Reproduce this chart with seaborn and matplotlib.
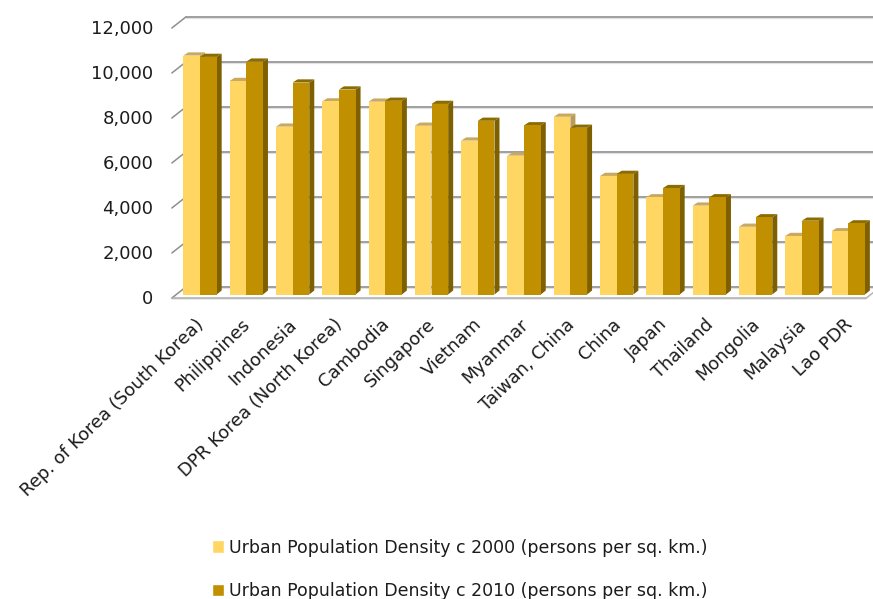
import numpy as np
import pandas as pd
import matplotlib.pyplot as plt
import seaborn as sns
from matplotlib.patches import Polygon
from matplotlib.transforms import ScaledTranslation

countries = ['Rep. of Korea (South Korea)', 'Philippines', 'Indonesia', 'DPR Korea (North Korea)',
             'Cambodia', 'Singapore', 'Vietnam', 'Myanmar', 'Taiwan, China', 'China', 'Japan',
             'Thailand', 'Mongolia', 'Malaysia', 'Lao PDR']
density_2000 = [10620, 9490, 7460, 8580, 8570, 7500, 6840, 6170, 7900, 5270, 4320, 3950, 3010, 2600, 2810]
density_2010 = [10560, 10350, 9420, 9110, 8610, 8470, 7720, 7520, 7410, 5360, 4730, 4320, 3430, 3280, 3160]
label_2000 = 'Urban Population Density c 2000 (persons per sq. km.)'
label_2010 = 'Urban Population Density c 2010 (persons per sq. km.)'
y_ticks = [0, 2000, 4000, 6000, 8000, 10000, 12000]

W, H = 873, 599
FONT = 'DejaVu Sans'

sns.set_theme(style='white', rc={'font.family': FONT})

df = pd.DataFrame({'Country': countries * 2,
                   'Density': density_2000 + density_2010,
                   'Series': [label_2000] * 15 + [label_2010] * 15})

fig = plt.figure(figsize=(W / 100, H / 100), dpi=100)
ax = fig.add_axes([176.85 / W, 1 - 294.5 / H, 694.5 / W, 270 / H])

colors = {label_2000: '#FFD662', label_2010: '#C09000'}
tops = {label_2000: '#C9A860', label_2010: '#8C6C00'}
sides = {label_2000: '#B89C58', label_2010: '#7E6000'}

sns.barplot(data=df, x='Country', y='Density', hue='Series', palette=colors, hue_order=[label_2000, label_2010],
            width=0.72, gap=0, saturation=1, errorbar=None, ax=ax, zorder=3)
ax.set_xlim(-0.5, 14.5)
ax.set_ylim(0, 12000)
ax.set_xlabel('')
ax.set_ylabel('')
sns.despine(ax=ax, left=True, bottom=True)


def shifted(dx, dy):
    # pixel offset on top of data coordinates
    return ax.transData + ScaledTranslation(dx / 100, dy / 100, fig.dpi_scale_trans)


# 3D look: back wall and floor
front = shifted(-5, -3.5)
back = shifted(9, 7.5)
grid_col = '#8F8F8F'
for v in y_ticks:
    ax.plot([-0.5, 14.5], [v, v], transform=shifted(9, 6.5), color='#E2E2E2', lw=0.9, clip_on=False, zorder=1)
    ax.plot([-0.5, 14.5], [v, v], transform=back, color=grid_col, lw=1.2, clip_on=False, zorder=1.5)
    x0, y0 = front.transform((-0.5, v))
    x1, y1 = back.transform((-0.5, v))
    ax.plot([x0, x1], [y0, y1], transform=None, color=grid_col, lw=1.1, clip_on=False, zorder=1.5)
ax.plot([-0.5, 14.5], [0, 0], transform=shifted(-5, -4.5), color='#E2E2E2', lw=1.1, clip_on=False, zorder=1)
ax.plot([-0.5, 14.5], [0, 0], transform=front, color='#ABABAB', lw=1.1, clip_on=False, zorder=1.5)
x0, y0 = front.transform((14.5, 0))
x1, y1 = back.transform((14.5, 0))
ax.plot([x0, x1], [y0, y1], transform=None, color='#B5B5B5', lw=1.1, clip_on=False, zorder=1.5)

# bar tops and sides, worked out from the bars seaborn drew
depth_x = 5 / 46.3
depth_y = 4 / 0.0225
for i, (name, cont) in enumerate(zip([label_2000, label_2010], ax.containers)):
    z = 3 + i
    for bar in cont:
        bar.set_zorder(z + 0.1)
        bar.set_linewidth(0)
        xl, xr, h = bar.get_x(), bar.get_x() + bar.get_width(), bar.get_height()
        ax.add_patch(Polygon([(xl, h), (xr, h), (xr + depth_x, h + depth_y * 0.8), (xl + depth_x, h + depth_y * 0.8)],
                             facecolor=tops[name], edgecolor='none', zorder=z, clip_on=False))
        ax.add_patch(Polygon([(xr, 0), (xr + depth_x, depth_y), (xr + depth_x, h + depth_y * 0.8), (xr, h)],
                             facecolor=sides[name], edgecolor='none', zorder=z, clip_on=False))

# ticks
ax.set_yticks(y_ticks)
ax.set_yticklabels([f'{v:,}' for v in y_ticks])
ax.tick_params(axis='y', length=0, pad=17, labelsize=13, labelcolor='#1C1C1C')
for lab in ax.get_yticklabels():
    lab.set_transform(lab.get_transform() + ScaledTranslation(0, -2.5 / 100, fig.dpi_scale_trans))

ax.set_xticks(range(len(countries)))
ax.set_xticklabels(countries, rotation=44, ha='right', va='top', rotation_mode='anchor',
                   fontsize=12.9, color='#1C1C1C')
ax.tick_params(axis='x', length=0, pad=15)
for lab in ax.get_xticklabels():
    lab.set_transform(lab.get_transform() + ScaledTranslation(-5 / 100, 0, fig.dpi_scale_trans))

sns.move_legend(ax, 'upper left', bbox_to_anchor=(196 / W, 1 - 523 / H), bbox_transform=fig.transFigure,
                frameon=False, title=None, fontsize=12.5, labelspacing=1.45, handlelength=0.7, handleheight=0.7,
                handletextpad=0.3, labelcolor='#1C1C1C')

fig.savefig('out.png', dpi=100)
